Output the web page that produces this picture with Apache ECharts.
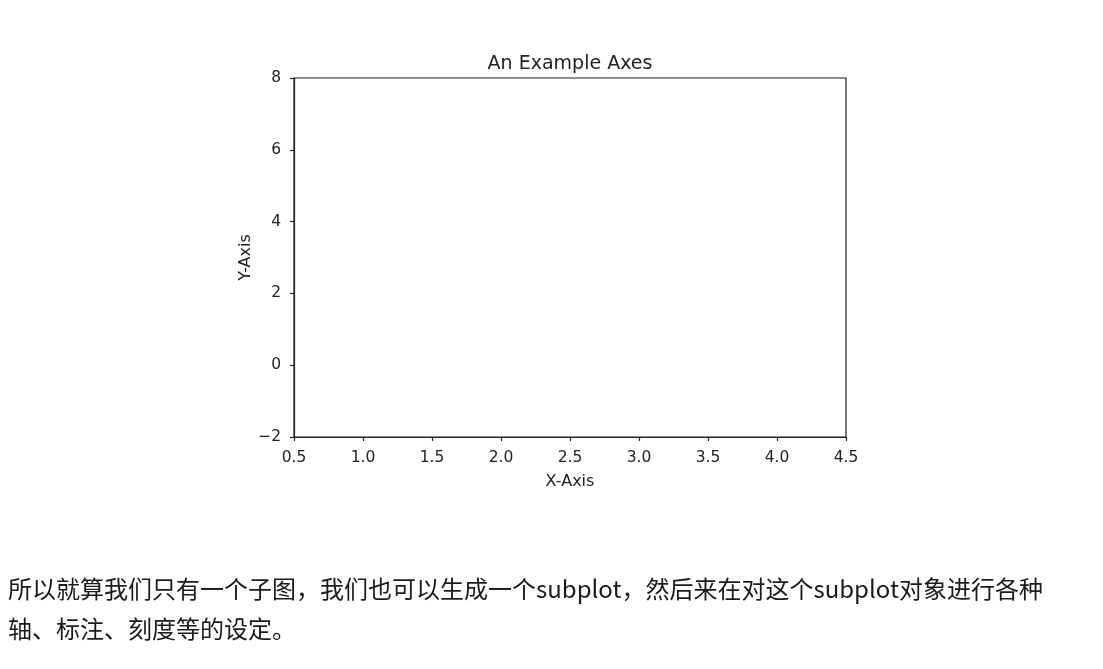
<!DOCTYPE html>
<html>
<head>
<meta charset="utf-8">
<script src="https://cdn.jsdelivr.net/npm/echarts@6/dist/echarts.min.js"></script>
<style>
html,body{margin:0;padding:0;background:#fff;}
#chart{width:1103px;height:669px;}
</style>
</head>
<body>
<div id="chart"></div>
<script>
const titleText = 'An Example Axes';
const xLabel = 'X-Axis';
const yLabel = 'Y-Axis';
const xMin = 0.5, xMax = 4.5, xStep = 0.5;
const yMin = -2, yMax = 8, yStep = 2;
const seriesData = [];
const captionLines = [
  '所以就算我们只有一个子图，我们也可以生成一个subplot，然后来在对这个subplot对象进行各种',
  '轴、标注、刻度等的设定。'
];

const ink = '#222';
const font = 'DejaVu Sans';
const chart = echarts.init(document.getElementById('chart'));
chart.setOption({
  animation: false,
  backgroundColor: '#fff',
  title: {
    text: titleText,
    left: 565, top: 50, textAlign: 'center',
    textStyle: {fontFamily: font, fontSize: 19, fontWeight: 'normal', color: ink}
  },
  grid: {
    left: 294, top: 78, width: 552, height: 359,
    show: true, borderColor: ink, borderWidth: 1.2, backgroundColor: 'transparent'
  },
  xAxis: {
    type: 'value', min: xMin, max: xMax, interval: xStep,
    name: xLabel, nameLocation: 'middle', nameGap: 37, nameMoveOverlap: false,
    nameTextStyle: {fontFamily: font, fontSize: 16, color: ink},
    axisLine: {show: true, onZero: false, lineStyle: {color: ink, width: 1.2}},
    axisTick: {show: true, length: 4, lineStyle: {color: ink, width: 1.2}},
    axisLabel: {fontFamily: font, fontSize: 15.5, color: ink, margin: 13,
      formatter: v => v.toFixed(1)},
    splitLine: {show: false}
  },
  yAxis: {
    type: 'value', min: yMin, max: yMax, interval: yStep,
    name: yLabel, nameLocation: 'middle', nameGap: 40, nameRotate: 90, nameMoveOverlap: false,
    nameTextStyle: {fontFamily: font, fontSize: 16, color: ink},
    axisLine: {show: true, onZero: false, lineStyle: {color: ink, width: 1.2}},
    axisTick: {show: true, length: 4, lineStyle: {color: ink, width: 1.2}},
    axisLabel: {fontFamily: font, fontSize: 15.5, color: ink, margin: 13,
      formatter: v => String(v).replace('-', '\u2212')},
    splitLine: {show: false}
  },
  series: [{type: 'scatter', data: seriesData}],
  graphic: captionLines.map((t, i) => ({
    type: 'text', left: 8, top: 577 + i * 40,
    style: {text: t, fontFamily: 'Noto Sans CJK SC', fontSize: 24, fill: '#1a1a1a'}
  }))
});
</script>
</body>
</html>
